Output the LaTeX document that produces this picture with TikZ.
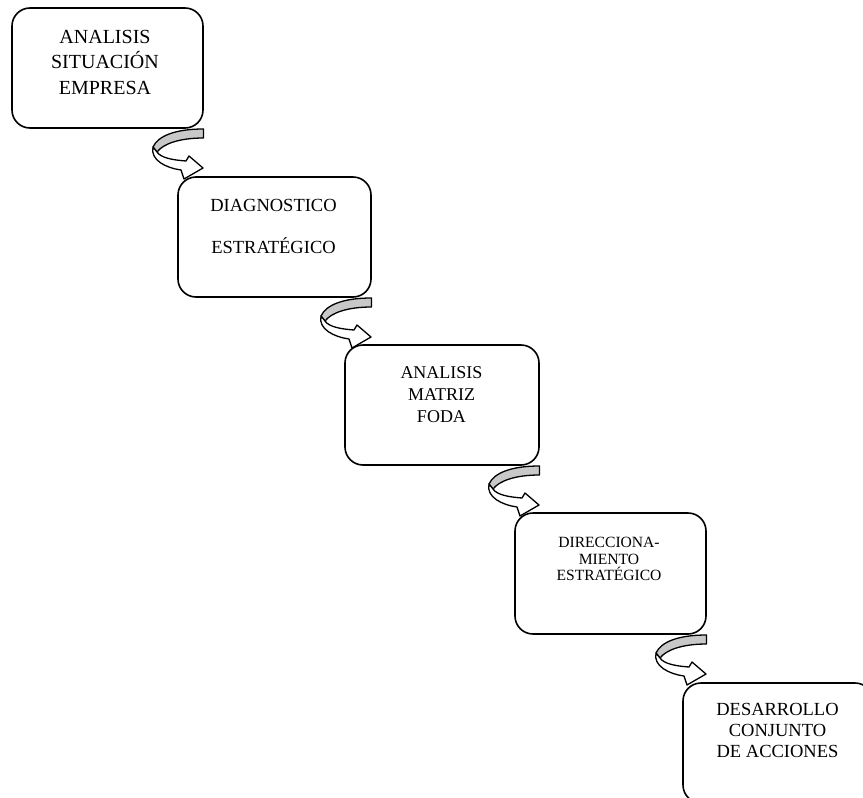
\documentclass[tikz,border=0pt]{standalone}
\usepackage{fontspec}
\setmainfont{Liberation Serif}
\definecolor{ribbongray}{RGB}{200,200,200}
\tikzset{
  stage/.style={draw=black, line width=1.6pt, rounded corners=18pt, fill=white,
                inner sep=0pt, outer sep=0pt},
  lbl/.style={anchor=base, inner sep=0pt, outer sep=0pt, text=black},
  ribbonline/.style={draw=black, line width=1.3pt, line join=round},
  ribbon/.pic={
    % shaded back face of the curled band
    \filldraw[ribbonline, fill=ribbongray]
      (0.5,1) .. controls (-28,1) and (-45,8) .. (-50,19)
      -- (-46,24) .. controls (-40,16) and (-24,10) .. (0.5,10) -- cycle;
    % front face of the band ending in the arrow head
    \filldraw[ribbonline, fill=white]
      (-50,19) .. controls (-53,32) and (-37,40) .. (-22,42)
      -- (-19,51) -- (0,40) -- (-14,28) -- (-17,33)
      .. controls (-30,32) and (-42,30) .. (-46,24) -- cycle;
  }
}
\begin{document}
\begin{tikzpicture}[x=1pt, y=-1pt]
\useasboundingbox (0,0) rectangle (863,798);
\clip (0,0) rectangle (863,798);

% stage boxes
\node[stage, minimum width=191pt, minimum height=120pt] (b1) at (107.5,68) {};
\node[stage, minimum width=193pt, minimum height=120pt] (b2) at (274.5,237) {};
\node[stage, minimum width=194pt, minimum height=120pt] (b3) at (442,405) {};
\node[stage, minimum width=191pt, minimum height=121pt] (b4) at (610.5,573.5) {};
\node[stage, minimum width=190pt, minimum height=120pt] (b5) at (778,743) {};

% curled arrows leading from each stage to the next
\pic at (b1.south east) {ribbon};
\pic at (b2.south east) {ribbon};
\pic at (b3.south east) {ribbon};
\pic at (b4.south east) {ribbon};

% labels
\begin{scope}[every node/.append style={font=\fontsize{20}{25}\selectfont}]
\node[lbl] (t1a) at (105,43.3) {ANALISIS};
\node[lbl] (t1b) at (105,68.3) {SITUACIÓN};
\node[lbl] (t1c) at (105,94.3) {EMPRESA};
\end{scope}

\begin{scope}[every node/.append style={font=\fontsize{18.5}{22}\selectfont}]
\node[lbl] (t2a) at (273.5,211) {DIAGNOSTICO};
\node[lbl] (t2b) at (273.5,253) {ESTRATÉGICO};
\end{scope}

\begin{scope}[every node/.append style={font=\fontsize{18}{22}\selectfont}]
\node[lbl] (t3a) at (441.5,378) {ANALISIS};
\node[lbl] (t3b) at (441.5,400) {MATRIZ};
\node[lbl] (t3c) at (441.5,422) {FODA};
\end{scope}

\begin{scope}[every node/.append style={font=\fontsize{15.6}{17}\selectfont}]
\node[lbl] (t4a) at (609,547.7) {DIRECCIONA-};
\node[lbl] (t4b) at (609,564.3) {MIENTO};
\node[lbl] (t4c) at (609,580) {ESTRATÉGICO};
\end{scope}

\begin{scope}[every node/.append style={font=\fontsize{18.5}{21}\selectfont}]
\node[lbl] (t5a) at (777.5,715) {DESARROLLO};
\node[lbl] (t5b) at (777.5,736) {CONJUNTO};
\node[lbl] (t5c) at (777.5,757) {DE ACCIONES};
\end{scope}
\end{tikzpicture}
\end{document}
